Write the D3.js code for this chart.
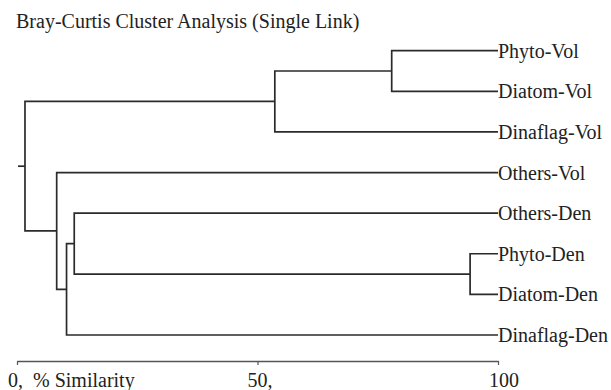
<!DOCTYPE html>
<html>
<head>
<meta charset="utf-8">
<script src="https://cdn.jsdelivr.net/npm/d3@7"></script>
<style>
  body { margin: 0; background: #fff; }
  svg { display: block; }
  text { font-family: "Liberation Serif", "Times New Roman", serif; fill: #222; white-space: pre; }
</style>
</head>
<body>
<div id="chart"></div>
<script>
// leaves, top to bottom
const leaves = ["Phyto-Vol", "Diatom-Vol", "Dinaflag-Vol", "Others-Vol",
                "Others-Den", "Phyto-Den", "Diatom-Den", "Dinaflag-Den"];

// merges: left child, right child ("#n" = earlier merge), % similarity
const mergeLeft  = ["Phyto-Vol", "#0", "Phyto-Den", "Others-Den", "#3", "Others-Vol", "#1"];
const mergeRight = ["Diatom-Vol", "Dinaflag-Vol", "Diatom-Den", "#2", "Dinaflag-Den", "#4", "#5"];
const mergeSim   = [77.9, 53.6, 94.2, 11.9, 10.3, 8.25, 1.66];

const tickValues = [0, 50, 100];
const tickLabels = ["0,  % Similarity", "50,", "100"];
const tickNums   = ["0", "50", "100"];

const W = 611, H = 390;
const plotLeft = 17, plotRight = 498, rowTop = 50.7, rowBottom = 335, axisY = 361;
const lineColor = "#2b2b2b";
const fontSize = "20px";

const svg = d3.select("#chart").append("svg")
  .attr("width", W)
  .attr("height", H);

svg.append("text")
  .attr("x", 16)
  .attr("y", 28)
  .style("font-size", fontSize)
  .text("Bray-Curtis Cluster Analysis (Single Link)");

var x = d3.scaleLinear().domain([0, 100]).range([plotLeft, plotRight]);
var y = d3.scalePoint().domain(leaves).range([rowTop, rowBottom]);

// positions of every node
let pos = {};
leaves.forEach(function (d) {
  pos[d] = { x: x(100), y: y(d) };
});

let g = svg.append("g")
  .attr("fill", "none")
  .attr("stroke", lineColor)
  .attr("stroke-width", 1.7);

mergeSim.forEach(function (s, i) {
  let a = pos[mergeLeft[i]], b = pos[mergeRight[i]];
  let mx = x(s);
  g.append("path")
    .attr("d", "M" + a.x + "," + a.y + "H" + mx + "V" + b.y + "H" + b.x);
  pos["#" + i] = { x: mx, y: (a.y + b.y) / 2 };
});

// small stub to the left of the root
let root = pos["#" + (mergeSim.length - 1)];
g.append("path").attr("d", "M" + root.x + "," + root.y + "h-7");

// leaf labels
svg.append("g")
  .selectAll("text")
  .data(leaves)
  .enter()
  .append("text")
  .attr("x", plotRight)
  .attr("y", function (d) { return y(d); })
  .attr("dy", "0.35em")
  .style("font-size", fontSize)
  .text(function (d) { return d; });

// axis
var xAxis = d3.axisBottom(x)
  .tickValues(tickValues)
  .tickSizeInner(4)
  .tickSizeOuter(0)
  .tickFormat("");

let ax = svg.append("g")
  .attr("transform", "translate(0," + axisY + ")")
  .call(xAxis);
ax.select(".domain").attr("stroke", "#555").attr("stroke-width", 1.4);
ax.selectAll(".tick line").attr("stroke", "#555").attr("stroke-width", 1.2);

// tick labels: number centred on the tick, rest trailing
tickValues.forEach(function (v, i) {
  let t = svg.append("text")
    .attr("y", 387)
    .style("font-size", fontSize)
    .text(tickNums[i]);
  let w = t.node().getComputedTextLength();
  t.text(tickLabels[i]).attr("x", x(v) - w / 2 + (i == 2 ? 6 : i == 0 ? -4 : 0));
});
</script>
</body>
</html>
